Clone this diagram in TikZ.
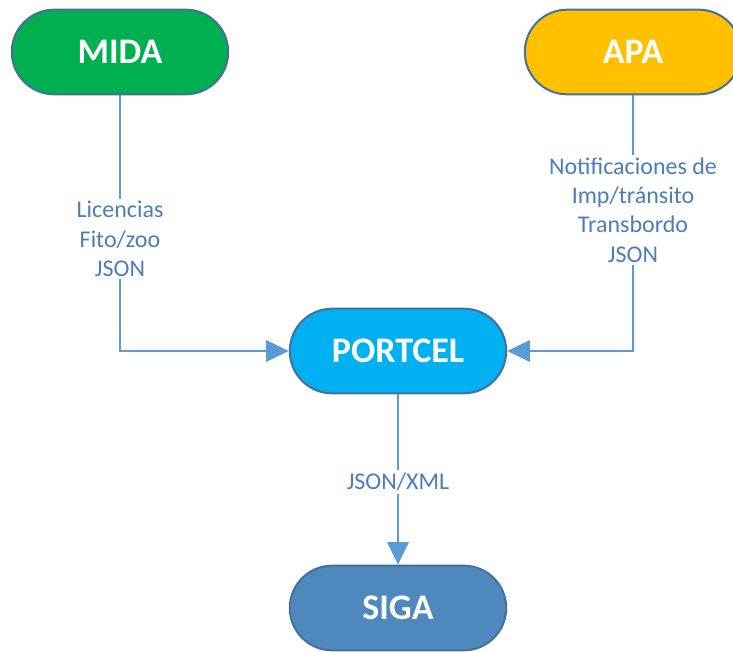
\documentclass[tikz,border=0pt]{standalone}
\usepackage{fontspec}
\setmainfont{Carlito}
\usetikzlibrary{shapes.misc,arrows.meta}
\definecolor{midagreen}{RGB}{0,176,80}
\definecolor{apayellow}{RGB}{255,192,0}
\definecolor{portcyan}{RGB}{0,176,240}
\definecolor{sigablue}{RGB}{78,136,188}
\definecolor{edgeblue}{RGB}{65,113,156}
\definecolor{lineblue}{RGB}{91,155,213}
\definecolor{textblue}{RGB}{74,126,187}
\tikzset{
	sysbox/.style={rounded rectangle, draw=edgeblue, line width=1.5pt,
		minimum width=169pt, minimum height=63.5pt, text=white,
		font=\fontsize{27}{30}\selectfont\bfseries},
	link/.style={draw=lineblue, line width=1.8pt},
	lbl/.style={fill=white, text=textblue, align=center, inner sep=2pt,
		font=\fontsize{18}{22}\selectfont}
}
\begin{document}
\begin{tikzpicture}[x=0.75pt, y=-0.75pt]
	\useasboundingbox (0,0) rectangle (733,651);
	% sistemas
	\node[sysbox, fill=midagreen] (mida) at (120,52) {MIDA};
	\node[sysbox, fill=apayellow] (apa) at (633,52) {APA};
	\node[sysbox, fill=portcyan] (portcel) at (398,351) {PORTCEL};
	\node[sysbox, fill=sigablue] (siga) at (398,608) {SIGA};
	% flujos
	\draw[link, -{Triangle[length=17pt, width=16pt]}] (mida.south) |- (portcel.west);
	\draw[link, -{Triangle[length=17pt, width=16pt]}] (apa.south) |- (portcel.east);
	\draw[link, -{Triangle[length=17pt, width=16pt]}] (portcel.south) -- (siga.north);
	% etiquetas
	\node[lbl] (lbmida) at (120,239) {Licencias\\Fito/zoo\\JSON};
	\node[lbl] (lbapa) at (633,210) {Notificaciones de\\Imp/tránsito\\Transbordo\\JSON};
	\node[lbl] (lbsiga) at (398,482) {JSON/XML};
\end{tikzpicture}
\end{document}
